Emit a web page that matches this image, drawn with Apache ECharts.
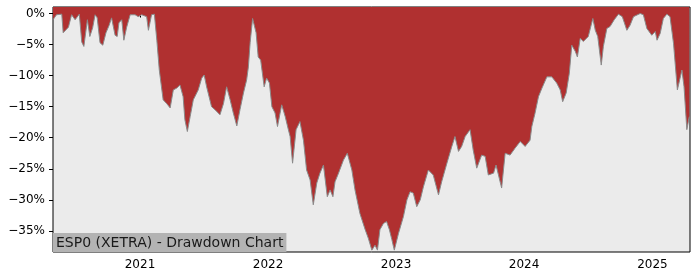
<!DOCTYPE html>
<html>
<head>
<meta charset="utf-8">
<script src="https://cdn.jsdelivr.net/npm/echarts@6/dist/echarts.min.js"></script>
<style>
html,body{margin:0;padding:0;background:#fff;}
#chart{width:700px;height:280px;}
</style>
</head>
<body>
<div id="chart"></div>
<script>
const dates = [
'2020-04-28','2020-05-08','2020-05-23','2020-05-27','2020-06-11','2020-06-20','2020-06-30','2020-07-12','2020-07-19','2020-07-25',
'2020-08-04','2020-08-11','2020-08-19','2020-08-26','2020-09-01','2020-09-09','2020-09-17','2020-09-26','2020-10-05','2020-10-12',
'2020-10-22','2020-10-28','2020-11-02','2020-11-10','2020-11-16','2020-11-24','2020-12-04','2020-12-18','2020-12-27','2021-01-06',
'2021-01-20','2021-01-25','2021-02-03','2021-02-11','2021-02-18','2021-02-25','2021-03-08','2021-03-18','2021-03-28','2021-04-06',
'2021-04-16','2021-04-25','2021-05-04','2021-05-09','2021-05-16','2021-05-24','2021-06-02','2021-06-16','2021-06-26','2021-07-03',
'2021-07-10','2021-07-24','2021-08-03','2021-08-17','2021-08-27','2021-09-05','2021-09-15','2021-09-24','2021-10-04','2021-10-13',
'2021-10-23','2021-11-01','2021-11-06','2021-11-11','2021-11-18','2021-11-28','2021-12-04','2021-12-11','2021-12-21','2021-12-28',
'2022-01-05','2022-01-12','2022-01-21','2022-01-28','2022-02-09','2022-02-19','2022-02-28','2022-03-05','2022-03-12','2022-03-22',
'2022-04-02','2022-04-12','2022-04-21','2022-05-01','2022-05-10','2022-05-20','2022-05-29','2022-06-08','2022-06-19','2022-06-27',
'2022-07-05','2022-07-11','2022-07-21','2022-08-04','2022-08-15','2022-08-28','2022-09-06','2022-09-20','2022-10-05','2022-10-14',
'2022-10-24','2022-11-02','2022-11-09','2022-11-16','2022-11-26','2022-12-05','2022-12-13','2022-12-20','2022-12-27','2023-01-08',
'2023-01-22','2023-02-01','2023-02-10','2023-02-19','2023-03-01','2023-03-11','2023-03-20','2023-04-03','2023-04-17','2023-05-02',
'2023-05-11','2023-05-26','2023-06-09','2023-06-18','2023-06-28','2023-07-07','2023-07-17','2023-07-31','2023-08-09','2023-08-19',
'2023-09-02','2023-09-12','2023-09-21','2023-10-06','2023-10-13','2023-10-20','2023-10-29','2023-11-08','2023-11-22','2023-12-06',
'2023-12-21','2024-01-04','2024-01-18','2024-01-23','2024-02-01','2024-02-11','2024-02-21','2024-03-06','2024-03-20','2024-04-03',
'2024-04-13','2024-04-20','2024-04-30','2024-05-09','2024-05-16','2024-05-26','2024-06-01','2024-06-09','2024-06-18','2024-07-02',
'2024-07-15','2024-07-22','2024-07-29','2024-08-08','2024-08-14','2024-08-24','2024-09-02','2024-09-14','2024-09-26','2024-10-07',
'2024-10-20','2024-10-29','2024-11-08','2024-11-27','2024-12-06','2024-12-16','2024-12-30','2025-01-09','2025-01-14','2025-01-23',
'2025-02-01','2025-02-11','2025-02-20','2025-03-02','2025-03-13','2025-03-26','2025-04-01','2025-04-09','2025-04-16'
];
const drawdown = [
-1.0,-0.2,-0.1,-3.1,-2.2,-0.2,-1.0,-0.1,-4.6,-5.3,
-1.0,-3.7,-2.3,-0.2,-0.7,-4.7,-5.1,-3.1,-1.9,-0.7,
-3.5,-3.7,-1.5,-1.0,-4.3,-2.2,-0.2,-0.2,-0.5,-0.2,
-0.5,-2.7,-0.2,-0.1,-4.3,-9.1,-13.9,-14.5,-15.2,-12.3,
-12.0,-11.5,-13.4,-17.1,-19.0,-16.6,-13.9,-12.3,-10.4,-9.9,
-11.8,-15.0,-15.5,-16.3,-14.5,-11.8,-13.9,-16.0,-18.1,-15.5,
-12.8,-10.7,-8.6,-4.7,-0.8,-3.1,-7.0,-7.5,-11.8,-10.4,
-11.2,-15.0,-16.0,-18.2,-14.7,-16.6,-18.7,-19.8,-24.1,-18.7,
-17.4,-20.4,-25.2,-26.8,-30.8,-27.3,-25.7,-24.4,-29.5,-28.4,
-29.5,-27.1,-25.7,-23.6,-22.5,-25.2,-28.4,-32.2,-34.8,-36.2,
-38.1,-37.3,-38.1,-34.8,-33.8,-33.5,-34.8,-36.4,-38.1,-35.4,
-32.7,-30.0,-28.7,-28.9,-31.1,-30.0,-27.9,-25.2,-26.0,-29.2,
-27.1,-24.1,-21.4,-19.8,-22.2,-21.4,-19.8,-18.7,-22.0,-24.9,
-22.8,-23.0,-26.0,-25.7,-24.4,-26.0,-28.1,-22.5,-22.8,-21.7,
-20.6,-21.4,-20.4,-18.2,-16.1,-13.4,-12.0,-10.2,-10.2,-11.2,
-12.3,-14.2,-12.8,-9.6,-5.1,-6.1,-7.0,-4.0,-4.5,-3.7,
-0.8,-2.7,-3.7,-8.3,-5.3,-2.4,-2.1,-1.0,-0.1,-0.5,
-2.7,-1.9,-0.5,0.0,-0.2,-2.4,-3.5,-2.9,-4.3,-3.2,
-0.8,-0.1,-0.5,-4.8,-12.3,-9.1,-11.8,-18.7,-16.6
];
const yTicks = [0,-5,-10,-15,-20,-25,-30,-35];
const yearTicks = [2021,2022,2023,2024,2025];
const titleText = 'ESP0 (XETRA) - Drawdown Chart';
const xStart = '2020-04-28', xEnd = '2025-04-18';

function ts(s){ const p = s.split('-').map(Number); return Date.UTC(p[0], p[1]-1, p[2]); }
const yearVals = yearTicks.map(y => Date.UTC(y,0,1));

const chart = echarts.init(document.getElementById('chart'), null, {renderer:'canvas'});
const font = 'DejaVu Sans';
chart.setOption({
  animation:false,
  title:{
    text:titleText, left:53, top:233,
    padding:[2,3,1,3],
    backgroundColor:'#b3b3b3',
    textStyle:{fontFamily:font,fontSize:14,fontWeight:'normal',color:'#1a1a1a',lineHeight:16}
  },
  grid:{left:53,right:10,top:7,bottom:28,show:true,backgroundColor:'#ebebeb',borderColor:'#000',borderWidth:1,containLabel:false},
  xAxis:{
    type:'value',
    min:ts(xStart), max:ts(xEnd),
    axisLine:{show:false},
    splitLine:{show:false},
    axisTick:{show:true,length:4,lineStyle:{color:'#000'},customValues:yearVals},
    axisLabel:{fontFamily:font,fontSize:12,color:'#000',margin:7,customValues:yearVals,
      formatter:v=>String(new Date(v).getUTCFullYear())}
  },
  yAxis:{
    type:'value', min:-38.4, max:1.05,
    axisLine:{show:false},
    splitLine:{show:false},
    axisTick:{show:true,length:4,lineStyle:{color:'#000'},customValues:yTicks},
    axisLabel:{fontFamily:font,fontSize:12,color:'#000',margin:8,customValues:yTicks,
      formatter:v=>(v<0?'\u2212':'')+Math.abs(v)+'%'}
  },
  series:[{
    type:'line',
    data:dates.map((d,i)=>[ts(d),drawdown[i]]),
    showSymbol:false,
    symbol:'none',
    lineStyle:{color:'#8a8a8a',width:1},
    areaStyle:{color:'#b03030',opacity:1,origin:'end'},
    z:2
  }]
});
</script>
</body>
</html>
